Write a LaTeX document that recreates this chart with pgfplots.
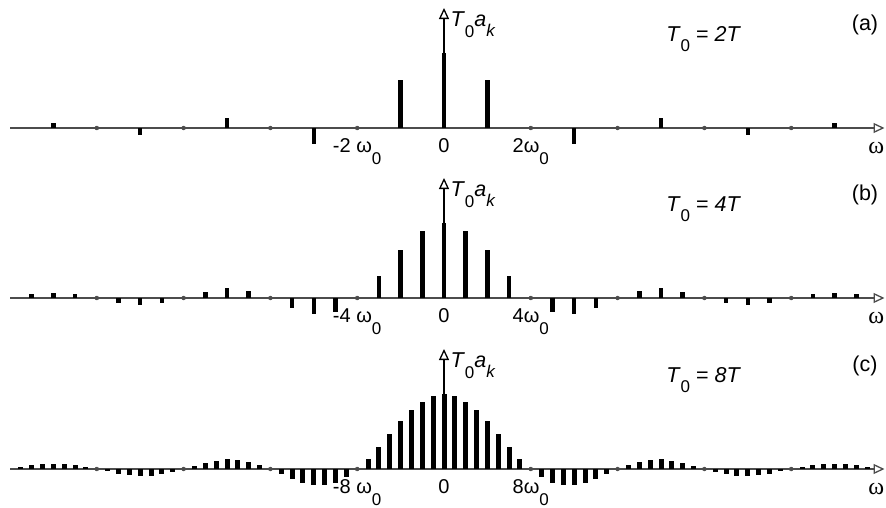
\documentclass[border=0pt]{standalone}
\usepackage{fontspec}
\setmainfont{Liberation Sans}
\newfontfamily\serifw{Liberation Serif}
\usepackage{pgfplots}
\pgfplotsset{compat=1.18}
\usepackage{pgfplotstable}
\usetikzlibrary{arrows.meta}

% T0 a_k for k >= 0 (the spectrum is even)
\pgfplotstableread{
k v
0 1.000
1 0.637
3 -0.212
5 0.127
7 -0.091
9 0.071
}\speca

\pgfplotstableread{
k v
0 1.000
1 0.900
2 0.637
3 0.300
5 -0.180
6 -0.212
7 -0.129
9 0.100
10 0.127
11 0.082
13 -0.069
14 -0.091
15 -0.060
17 0.053
18 0.071
19 0.047
}\specb

\pgfplotstableread{
k v
0 1.000
1 0.975
2 0.900
3 0.784
4 0.637
5 0.471
6 0.300
7 0.139
9 -0.108
10 -0.180
11 -0.214
12 -0.212
13 -0.181
14 -0.129
15 -0.065
17 0.057
18 0.100
19 0.124
20 0.127
21 0.112
22 0.082
23 0.042
25 -0.039
26 -0.069
27 -0.087
28 -0.091
29 -0.081
30 -0.060
31 -0.031
33 0.030
34 0.053
35 0.067
36 0.071
37 0.064
38 0.047
39 0.025
}\specc

\newcommand\lbl{\fontsize{20}{23}\selectfont}
\newcommand\lblb{\fontsize{21.5}{24}\selectfont}
\newcommand\sub[2]{\raisebox{#1}{\fontsize{17}{17}\selectfont #2}}
\newcommand\Tz{\textit{T}\sub{-0.5em}{0}}

\pgfplotsset{
  spec/.style={scale only axis, width=868pt, height=142.5pt,
    ymin=-0.3, ymax=1.6, axis lines=none, clip=false, anchor=south west},
  bar/.style={ycomb, black, line width=#1, mark=none},
  zero/.style={only marks, mark=*, mark size=2pt, gray!60!black},
}
\tikzset{open/.style={-{Triangle[open,length=11pt,width=10pt,line width=1.3pt]}}}

\begin{document}
\begin{tikzpicture}
\useasboundingbox (0,0) rectangle (886pt,-507pt);

% (a)
\begin{axis}[spec, at={(10pt,-150.5pt)}, xmin=-10, xmax=10]
  \draw[black!70, line width=2.4pt, open] (axis cs:-10,0) -- (axis cs:10.15,0);
  \addplot[bar=4.5pt] table[x=k, y=v] {\speca};
  \addplot[bar=4.5pt] table[x expr=-\thisrow{k}, y=v] {\speca};
  \addplot[zero] coordinates {(-8,0) (-6,0) (-4,0) (-2,0) (2,0) (4,0) (6,0) (8,0)};
  \draw[black, line width=1.3pt, open] (axis cs:0,0) -- (axis cs:0,1.6);
  \node[anchor=base] at (axis cs:-2,-0.32) {\lbl -2 ω\sub{-0.6em}{0}};
  \node[anchor=base] at (axis cs:0,-0.32) {\lbl 0};
  \node[anchor=base] at (axis cs:2,-0.32) {\lbl 2ω\sub{-0.6em}{0}};
  \node[anchor=base west] at (axis description cs:0.5035,0.867) {\lblb \Tz\textit{a}\sub{-0.45em}{\textit{k}}};
  \node[anchor=base west] at (axis description cs:0.752,0.768) {\lblb \Tz{} = \textit{2T}};
  \node at (axis description cs:0.985,0.881) {\lblb (a)};
  \node at (axis description cs:0.998,0.017) {\fontsize{24}{26}\selectfont\serifw ω};
\end{axis}

% (b)
\begin{axis}[spec, at={(10pt,-320.5pt)}, xmin=-20, xmax=20]
  \draw[black!70, line width=2.4pt, open] (axis cs:-20,0) -- (axis cs:20.3,0);
  \addplot[bar=4.5pt] table[x=k, y=v] {\specb};
  \addplot[bar=4.5pt] table[x expr=-\thisrow{k}, y=v] {\specb};
  \addplot[zero] coordinates {(-16,0) (-12,0) (-8,0) (-4,0) (4,0) (8,0) (12,0) (16,0)};
  \draw[black, line width=1.3pt, open] (axis cs:0,0) -- (axis cs:0,1.6);
  \node[anchor=base] at (axis cs:-4,-0.32) {\lbl -4 ω\sub{-0.6em}{0}};
  \node[anchor=base] at (axis cs:0,-0.32) {\lbl 0};
  \node[anchor=base] at (axis cs:4,-0.32) {\lbl 4ω\sub{-0.6em}{0}};
  \node[anchor=base west] at (axis description cs:0.5035,0.867) {\lblb \Tz\textit{a}\sub{-0.45em}{\textit{k}}};
  \node[anchor=base west] at (axis description cs:0.752,0.768) {\lblb \Tz{} = \textit{4T}};
  \node at (axis description cs:0.985,0.881) {\lblb (b)};
  \node at (axis description cs:0.998,0.017) {\fontsize{24}{26}\selectfont\serifw ω};
\end{axis}

% (c)
\begin{axis}[spec, at={(10pt,-491.5pt)}, xmin=-40, xmax=40]
  \draw[black!70, line width=2.4pt, open] (axis cs:-40,0) -- (axis cs:40.6,0);
  \addplot[bar=5pt] table[x=k, y=v] {\specc};
  \addplot[bar=5pt] table[x expr=-\thisrow{k}, y=v] {\specc};
  \addplot[zero] coordinates {(-32,0) (-24,0) (-16,0) (-8,0) (8,0) (16,0) (24,0) (32,0)};
  \draw[black, line width=1.3pt, open] (axis cs:0,0) -- (axis cs:0,1.6);
  \node[anchor=base] at (axis cs:-8,-0.32) {\lbl -8 ω\sub{-0.6em}{0}};
  \node[anchor=base] at (axis cs:0,-0.32) {\lbl 0};
  \node[anchor=base] at (axis cs:8,-0.32) {\lbl 8ω\sub{-0.6em}{0}};
  \node[anchor=base west] at (axis description cs:0.5035,0.867) {\lblb \Tz\textit{a}\sub{-0.45em}{\textit{k}}};
  \node[anchor=base west] at (axis description cs:0.752,0.768) {\lblb \Tz{} = \textit{8T}};
  \node at (axis description cs:0.985,0.881) {\lblb (c)};
  \node at (axis description cs:0.998,0.017) {\fontsize{24}{26}\selectfont\serifw ω};
\end{axis}
\end{tikzpicture}
\end{document}
